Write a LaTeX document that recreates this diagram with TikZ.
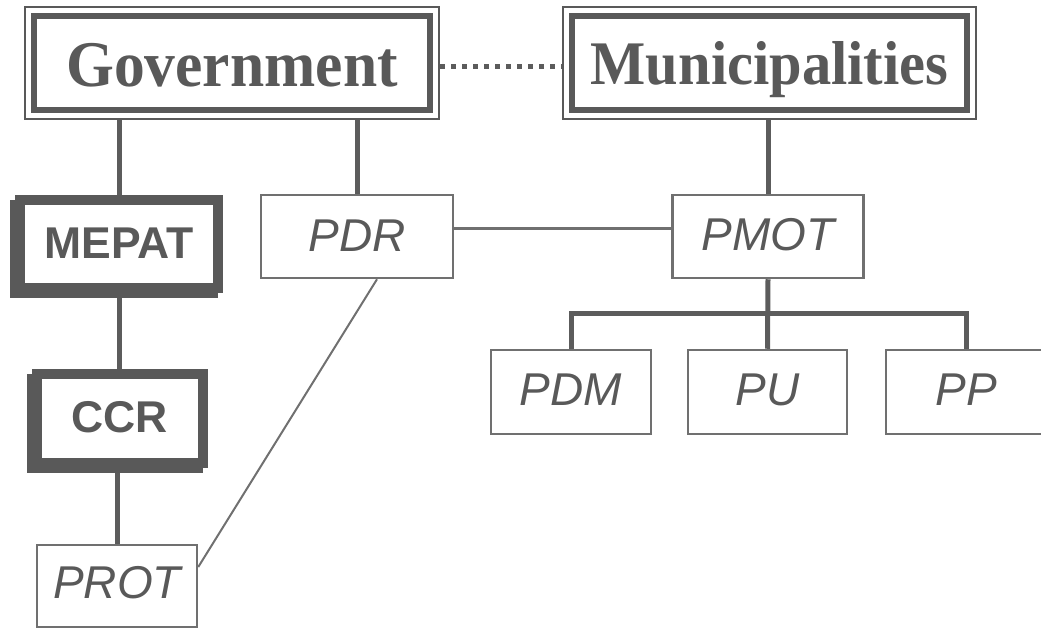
\documentclass[tikz,border=0pt]{standalone}
\usepackage{fontspec}
\setmainfont{Liberation Serif}
\setsansfont{Liberation Sans}
\usetikzlibrary{shadows,backgrounds}
\definecolor{ink}{HTML}{595959}
\definecolor{rulegray}{HTML}{5C5C5C}
\definecolor{edgegray}{HTML}{707070}
\newcommand{\tallword}[1]{\scalebox{1}[1.06]{#1}}

\begin{document}
\begin{tikzpicture}[x=1pt,y=-1pt,
  % double-framed heading boxes
  head/.style={draw=ink, line width=2pt, fill=white, inner sep=0pt, text=ink,
    text depth=0pt,
    path picture={\draw[ink,line width=6pt]
      ([shift={(9pt,9pt)}]path picture bounding box.south west) rectangle
      ([shift={(-9pt,-9pt)}]path picture bounding box.north east);}},
  % heavy frames with a shadow to the lower left
  heavy/.style={draw=ink, line width=10pt, fill=white, inner sep=0pt, text=ink,
    font=\sffamily\bfseries\fontsize{44.5}{44.5}\selectfont, text depth=0pt,
    general shadow={fill=ink, draw=ink, line width=10pt,
      shadow xshift=-5pt, shadow yshift=-5pt}},
  % plain plan boxes
  plan/.style={draw=edgegray, line width=2.5pt, fill=white, inner sep=0pt,
    text=ink, font=\sffamily\itshape\fontsize{46}{46}\selectfont,
    text height=27pt, text depth=0pt},
  trunk/.style={draw=rulegray, line width=5pt},
  link/.style={draw=edgegray, line width=2.5pt},
  dotline/.style={draw=rulegray, line width=5pt, dash pattern=on 5pt off 6pt}
]
\useasboundingbox (0,0) rectangle (1041,629);

% heading boxes
\node[head, font=\fontsize{61.5}{61.5}\selectfont\bfseries, text height=47pt,
  minimum width=414pt, minimum height=112pt] (gov) at (232,62.5) {\tallword{Government}};
\node[head, font=\fontsize{58.5}{58.5}\selectfont\bfseries, text height=44pt,
  minimum width=413pt, minimum height=112pt] (mun) at (769.5,62.5) {\tallword{Municipalities}};

% regional column
\node[heavy, text height=29pt, minimum width=198pt, minimum height=88.5pt] (mepat) at (119,243.75) {MEPAT};
\node[heavy, text height=28pt, minimum width=165.5pt, minimum height=89pt] (ccr) at (119.75,418) {CCR};
\node[plan, text height=24pt, minimum width=160pt, minimum height=82pt] (prot) at (117,586) {PROT};

% plans
\node[plan, text height=29pt, minimum width=192pt, minimum height=83pt] (pdr) at (357,236.5) {PDR};
\node[plan, text height=27pt, minimum width=191pt, minimum height=83pt] (pmot) at (768,236.5) {PMOT};
\node[plan, text height=26pt, minimum width=160pt, minimum height=84pt] (pdm) at (571,392) {PDM};
\node[plan, text height=26pt, minimum width=159pt, minimum height=84pt] (pu) at (767.5,392) {PU};
\node[plan, text height=26pt, minimum width=160pt, minimum height=84pt] (pp) at (966,392) {PP};

% connectors
\begin{scope}[on background layer]
  \draw[dotline] ([yshift=-4pt]gov.east) -- ([yshift=-4pt]mun.west);
  \draw[trunk] (mepat.north) -- (mepat.north |- gov.south);
  \draw[trunk] (pdr.north) -- (pdr.north |- gov.south);
  \draw[trunk] (pmot.north) -- (pmot.north |- mun.south);
  \draw[trunk] (ccr.north) -- (ccr.north |- mepat.south);
  \draw[trunk] (prot.north) -- (prot.north |- ccr.south);
  \draw[trunk] (pmot.south) -- (pu.north);
  \draw[trunk] (pdm.north) -- ++(0,-35) -| (pp.north);
  \draw[link] ([yshift=8pt]pdr.east) -- ([yshift=8pt]pmot.west);
  \draw[link, line width=2pt] ([xshift=20pt]pdr.south) -- ([yshift=19pt]prot.east);
\end{scope}
\end{tikzpicture}
\end{document}
